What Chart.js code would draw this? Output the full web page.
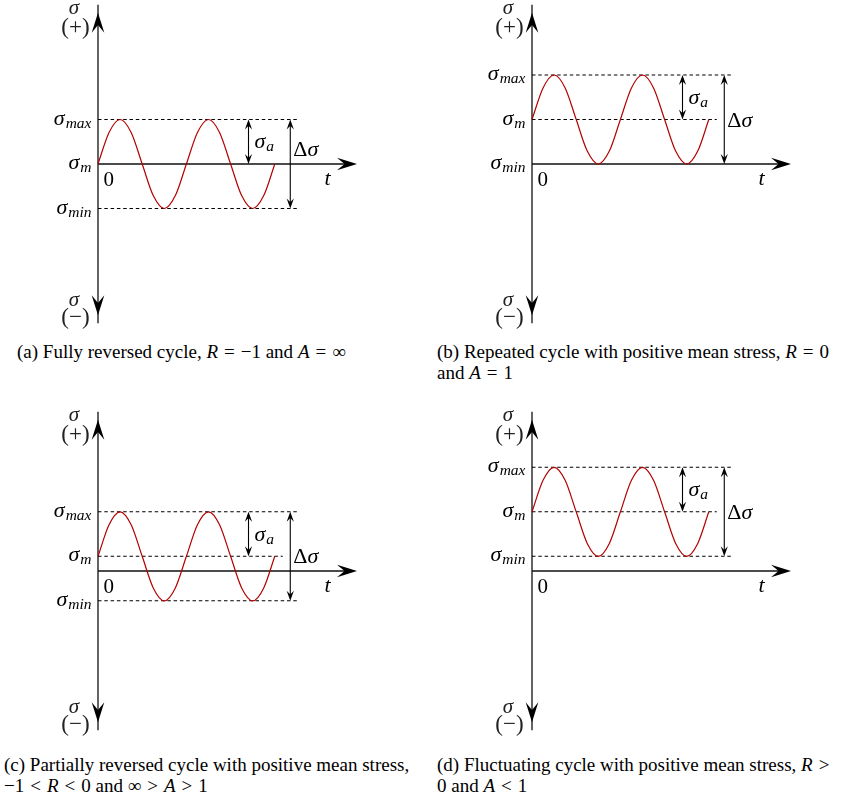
<!DOCTYPE html>
<html>
<head>
<meta charset="utf-8">
<script src="https://cdn.jsdelivr.net/npm/chart.js@4"></script>
<style>
  html,body{margin:0;padding:0;background:#fff;}
  body{width:848px;height:796px;position:relative;overflow:hidden;font-family:"Liberation Serif",serif;}
  .panel{position:absolute;width:414px;height:340px;}
  .cap{position:absolute;font-size:19px;line-height:21px;color:#000;white-space:nowrap;}
  .cap i{font-style:italic;}
  .op{margin:0 6px;}
</style>
</head>
<body>
<div class="panel" style="left:0;top:0"><canvas id="graficoA" width="414" height="340"></canvas></div>
<div class="panel" style="left:434px;top:0"><canvas id="graficoB" width="414" height="340"></canvas></div>
<div class="panel" style="left:0;top:407px"><canvas id="graficoC" width="414" height="340"></canvas></div>
<div class="panel" style="left:434px;top:407px"><canvas id="graficoD" width="414" height="340"></canvas></div>

<div class="cap" style="left:17px;top:341px">(a) Fully reversed cycle, <i>R</i><span class="op">=</span>−1 and <i>A</i><span class="op">=</span>∞</div>
<div class="cap" style="left:437px;top:341px">(b) Repeated cycle with positive mean stress, <i>R</i><span class="op">=</span>0<br>and <i>A</i><span class="op">=</span>1</div>
<div class="cap" style="left:4px;top:754px">(c) Partially reversed cycle with positive mean stress,<br>−1<span class="op">&lt;</span><i>R</i><span class="op">&lt;</span>0 and ∞<span class="op">&gt;</span><i>A</i><span class="op">&gt;</span>1</div>
<div class="cap" style="left:437px;top:754px">(d) Fluctuating cycle with positive mean stress, <i>R</i><span class="op">&gt;</span><br>0 and <i>A</i><span class="op">&lt;</span>1</div>

<script>
// tiempo: un punto cada octavo de periodo (dos ciclos)
const tiempo=[0,0.5,1,1.5,2,2.5,3,3.5,4,4.5,5,5.5,6,6.5,7,7.5,8];

const sigmaA=[0,0.71,1,0.71,0,-0.71,-1,-0.71,0,0.71,1,0.71,0,-0.71,-1,-0.71,0];
const sigmaB=[1,1.71,2,1.71,1,0.29,0,0.29,1,1.71,2,1.71,1,0.29,0,0.29,1];
const sigmaC=[0.33,1.04,1.33,1.04,0.33,-0.38,-0.67,-0.38,0.33,1.04,1.33,1.04,0.33,-0.38,-0.67,-0.38,0.33];
const sigmaD=[1.33,2.04,2.33,2.04,1.33,0.62,0.33,0.62,1.33,2.04,2.33,2.04,1.33,0.62,0.33,0.62,1.33];

// niveles [max, m, min]
const nivelesA=[1,0,-1];
const nivelesB=[2,1,0];
const nivelesC=[1.33,0.33,-0.67];
const nivelesD=[2.33,1.33,0.33];

const subindices=["max","m","min"];

// geometria (en unidades de los ejes)
const FIN_NIVEL=9.12;
const FIN_MEDIA=8.36;
const T_AMPLITUD=6.81;
const T_RANGO=8.7;
const T_FLECHA=11.72;
const S_FLECHA=3.4;

const ROJO="#b30000";
const FUENTE='"Liberation Serif", "DejaVu Serif", serif';

function punta(ctx,x,y,dx,dy,largo,ancho){
  const px=-dy,py=dx;
  ctx.beginPath();
  ctx.moveTo(x,y);
  ctx.lineTo(x-dx*largo+px*ancho,y-dy*largo+py*ancho);
  ctx.lineTo(x-dx*largo*0.62,y-dy*largo*0.62);
  ctx.lineTo(x-dx*largo-px*ancho,y-dy*largo-py*ancho);
  ctx.closePath();
  ctx.fill();
}

function sigmaSub(ctx,x,y,sub,alinear){
  ctx.textAlign="left";
  ctx.textBaseline="alphabetic";
  ctx.font="italic 22px "+FUENTE;
  const w1=ctx.measureText("σ").width;
  ctx.font="italic 15.5px "+FUENTE;
  const w2=sub?ctx.measureText(sub).width+1:0;
  const x0=alinear==="right"?x-w1-w2:x;
  ctx.font="italic 22px "+FUENTE;
  ctx.fillText("σ",x0,y+5);
  if(sub){
    ctx.font="italic 15.5px "+FUENTE;
    ctx.fillText(sub,x0+w1+1,y+8);
  }
}

const pluginCiclo={
  id:"ciclo",
  beforeDatasetsDraw(chart){
    const ctx=chart.ctx,sx=chart.scales.x,sy=chart.scales.y;
    const x0=sx.getPixelForValue(0),y0=sy.getPixelForValue(0);
    const yArr=sy.getPixelForValue(S_FLECHA),yAb=sy.getPixelForValue(-S_FLECHA);
    const xFin=sx.getPixelForValue(T_FLECHA);
    ctx.save();
    ctx.strokeStyle="#111";
    ctx.fillStyle="#000";
    ctx.lineWidth=1.3;
    ctx.beginPath();
    ctx.moveTo(x0,yAb+8);ctx.lineTo(x0,yArr-8);
    ctx.moveTo(x0,y0);ctx.lineTo(xFin-8,y0);
    ctx.stroke();
    punta(ctx,x0,yArr,0,-1,20,6.3);
    punta(ctx,x0,yAb,0,1,20,6.3);
    punta(ctx,xFin,y0,1,0,20,6.3);
    ctx.restore();
  },
  afterDatasetsDraw(chart,args,opts){
    const ctx=chart.ctx,sx=chart.scales.x,sy=chart.scales.y;
    const niveles=opts.niveles;
    const x0=sx.getPixelForValue(0),y0=sy.getPixelForValue(0);
    ctx.save();
    ctx.fillStyle="#000";
    ctx.strokeStyle="#000";
    ctx.lineWidth=1.1;

    // flechas dobles
    const dobles=[[T_AMPLITUD,niveles[0],niveles[1]],[T_RANGO,niveles[0],niveles[2]]];
    dobles.forEach(([t,a,b])=>{
      const x=sx.getPixelForValue(t),ya=sy.getPixelForValue(a),yb=sy.getPixelForValue(b);
      ctx.beginPath();ctx.moveTo(x,ya+5);ctx.lineTo(x,yb-5);ctx.stroke();
      punta(ctx,x,ya,0,-1,10,3.6);
      punta(ctx,x,yb,0,1,10,3.6);
    });

    // etiquetas de niveles
    niveles.forEach((v,i)=>{
      sigmaSub(ctx,x0-6.5,sy.getPixelForValue(v),subindices[i],"right");
    });

    // sigma_a
    const xa=sx.getPixelForValue(T_AMPLITUD);
    sigmaSub(ctx,xa+6,(sy.getPixelForValue(niveles[0])+sy.getPixelForValue(niveles[1]))/2+1.5,"a","left");

    // delta sigma
    const xr=sx.getPixelForValue(T_RANGO);
    const yd=opts.deltaY!=null?sy.getPixelForValue(opts.deltaY):(sy.getPixelForValue(niveles[0])+sy.getPixelForValue(niveles[2]))/2;
    ctx.textAlign="left";ctx.textBaseline="alphabetic";
    ctx.font="22px "+FUENTE;
    ctx.fillText("Δ",xr+3,yd+7);
    const wd=ctx.measureText("Δ").width;
    ctx.font="italic 22px "+FUENTE;
    ctx.fillText("σ",xr+3+wd,yd+7);

    // 0 y t
    ctx.textAlign="center";
    ctx.font="21px "+FUENTE;
    ctx.fillText("0",x0+10.7,y0+21.5);
    ctx.font="italic 22px "+FUENTE;
    ctx.fillText("t",sx.getPixelForValue(T_FLECHA)-29.5,y0+20.5);

    // sigma (+) y sigma (-)
    const yArr=sy.getPixelForValue(S_FLECHA),yAb=sy.getPixelForValue(-S_FLECHA);
    ctx.fillStyle="#222";
    ctx.font="italic 21px "+FUENTE;
    ctx.fillText("σ",x0-24,yArr+1);
    ctx.font="23px "+FUENTE;
    ctx.fillText("(+)",x0-22.5,yArr+21);
    ctx.font="italic 21px "+FUENTE;
    ctx.fillText("σ",x0-24,yAb-9);
    ctx.font="23px "+FUENTE;
    ctx.fillText("(−)",x0-22.5,yAb+9);
    ctx.restore();
  }
};

function graficoCiclo(id,sigma,niveles,deltaY){
  const datasets=[{
    data:tiempo.map((t,i)=>({x:t,y:sigma[i]})),
    borderColor:ROJO,
    borderWidth:1.2,
    pointRadius:0,
    cubicInterpolationMode:"monotone",
    fill:false
  }];
  niveles.forEach((v,i)=>{
    if(v===0) return;
    const fin=i===1?FIN_MEDIA:FIN_NIVEL;
    datasets.push({
      data:[{x:0,y:v},{x:fin,y:v}],
      borderColor:"#000",
      borderWidth:1.1,
      borderDash:[3.5,2.8],
      pointRadius:0,
      fill:false
    });
  });

  new Chart(id,{
    type:"line",
    data:{datasets:datasets},
    options:{
      responsive:false,
      animation:false,
      events:[],
      layout:{padding:0},
      plugins:{
        legend:{display:false},
        tooltip:{enabled:false},
        ciclo:{niveles:niveles,deltaY:deltaY}
      },
      scales:{
        x:{type:"linear",display:false,min:-98/22.1,max:316/22.1},
        y:{type:"linear",display:false,min:-176/44.5,max:164/44.5}
      }
    },
    plugins:[pluginCiclo]
  });
}

graficoCiclo("graficoA",sigmaA,nivelesA,0.34);
graficoCiclo("graficoB",sigmaB,nivelesB,null);
graficoCiclo("graficoC",sigmaC,nivelesC,null);
graficoCiclo("graficoD",sigmaD,nivelesD,null);
</script>
</body>
</html>
